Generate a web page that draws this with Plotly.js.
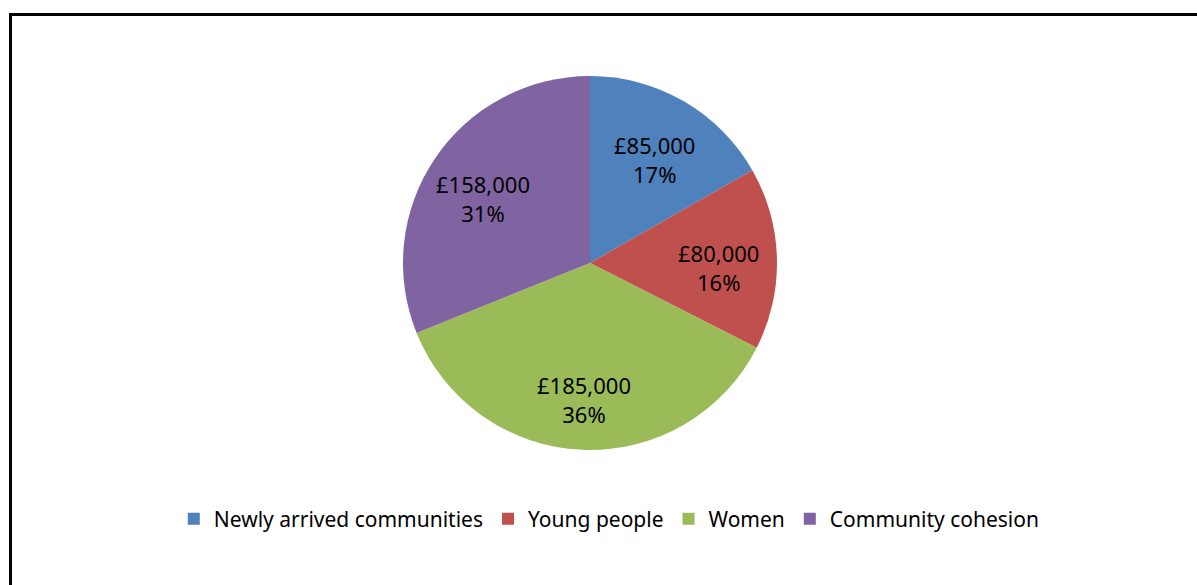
<!DOCTYPE html>
<html>
<head>
<meta charset="utf-8">
<script src="https://cdn.plot.ly/plotly-3.0.1.min.js"></script>
<style>
  html, body { margin: 0; padding: 0; background: #fff; overflow: hidden; }
  #chart { width: 1197px; height: 585px; }
</style>
</head>
<body>
<div id="chart"></div>
<script>
const categories = ["Newly arrived communities", "Young people", "Women", "Community cohesion"];
const amounts = [85000, 80000, 185000, 158000];
const sliceColors = ["#4F81BD", "#C0504D", "#9BBB59", "#8064A2"];

const W = 1197, H = 585;
const cx = 590, cy = 263, r = 187;
const labelRadius = 0.69;
const labelShift = -8;
const labelFont = { family: "Noto Sans, Open Sans, sans-serif", size: 22, color: "#000000" };

const total = amounts.reduce((a, b) => a + b, 0);

const trace = {
  type: "pie",
  labels: categories,
  values: amounts,
  sort: false,
  direction: "clockwise",
  rotation: 0,
  hole: 0,
  marker: { colors: sliceColors, line: { width: 0 } },
  textinfo: "none",
  domain: {
    x: [(cx - r) / W, (cx + r) / W],
    y: [(H - cy - r) / H, (H - cy + r) / H]
  },
  hoverinfo: "label+value+percent"
};

// data labels placed at each slice's mid-angle (derived from the values)
const annotations = [];
let cum = 0;
amounts.forEach((v) => {
  const frac = v / total;
  const mid = cum + frac / 2;
  cum += frac;
  const th = 2 * Math.PI * mid;
  const px = cx + labelRadius * r * Math.sin(th);
  const py = cy - labelRadius * r * Math.cos(th);
  annotations.push({
    xref: "paper", yref: "paper",
    x: px / W, y: 1 - py / H,
    xanchor: "center", yanchor: "middle",
    yshift: labelShift,
    showarrow: false,
    align: "center",
    text: "£" + v.toLocaleString("en-GB") + "<br>" + Math.round(frac * 100) + "%",
    font: labelFont
  });
});

const layout = {
  width: W,
  height: H,
  margin: { l: 0, r: 0, t: 0, b: 0 },
  paper_bgcolor: "#ffffff",
  showlegend: true,
  legend: {
    orientation: "h",
    x: 0.509,
    xanchor: "center",
    y: (H - 519) / H,
    yanchor: "middle",
    font: { family: "Noto Sans, Open Sans, sans-serif", size: 21, color: "#000000" },
    traceorder: "normal"
  },
  annotations: annotations,
  shapes: [{
    type: "rect",
    xref: "paper", yref: "paper",
    x0: 10.5 / W, x1: 1.2,
    y0: -0.2, y1: 1 - 14.5 / H,
    line: { color: "#000000", width: 3 },
    fillcolor: "rgba(0,0,0,0)"
  }]
};

Plotly.newPlot("chart", [trace], layout, { displayModeBar: false });
</script>
</body>
</html>
